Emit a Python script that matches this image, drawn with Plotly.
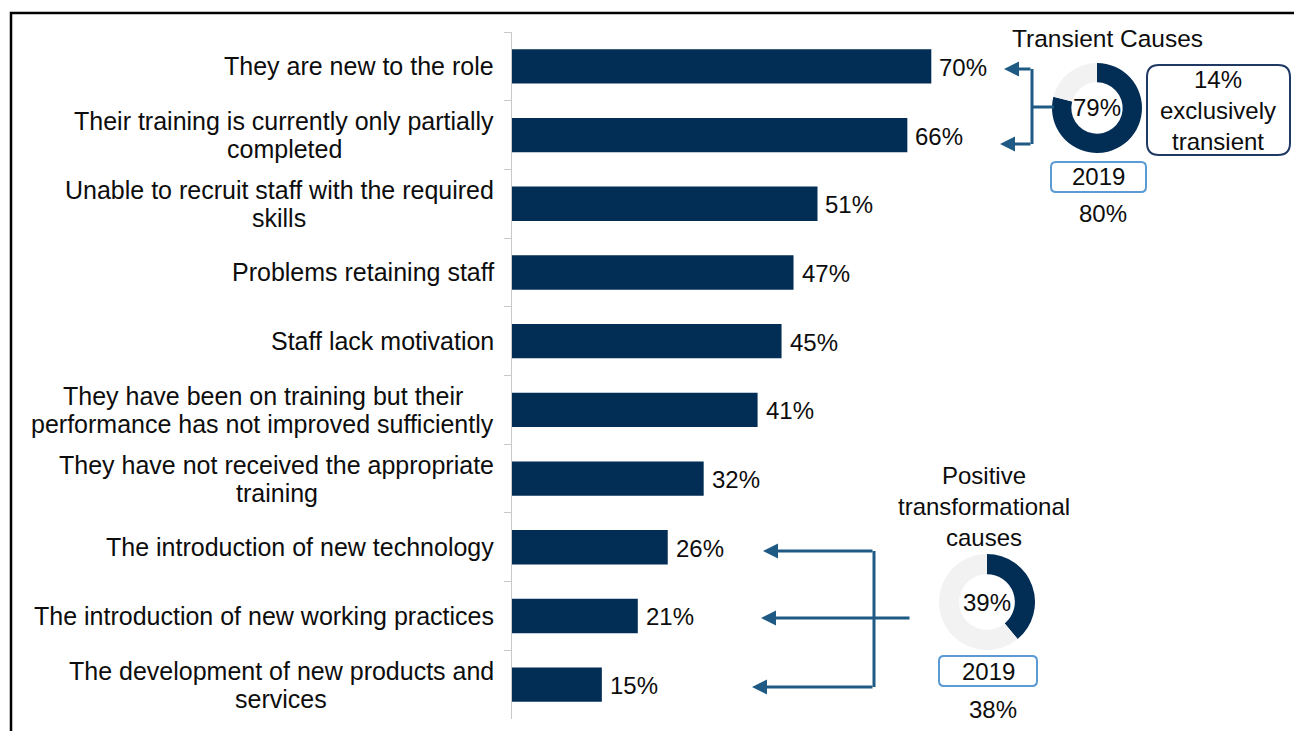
import plotly.graph_objects as go

# ---- data ----
categories = [
    "They are new to the role",
    "Their training is currently only partially<br>completed",
    "Unable to recruit staff with the required<br>skills",
    "Problems retaining staff",
    "Staff lack motivation",
    "They have been on training but their<br>performance has not improved sufficiently",
    "They have not received the appropriate<br>training",
    "The introduction of new technology",
    "The introduction of new working practices",
    "The development of new products and<br>services",
]
shares = [70, 66, 51, 47, 45, 41, 32, 26, 21, 15]

transient_share = 79
transient_2019 = 80
exclusively_transient = 14

positive_share = 39
positive_2019 = 38

# ---- styling ----
NAVY = "#022D55"
TRACK = "#F2F2F2"
ARROW = "#1E5A84"
FONT = "Liberation Sans, Arial, sans-serif"
TXT = "#0D0D0D"

W, H = 1294, 731
ML, MR, MT, MB = 512, 0, 32, 12
PW, PH = W - ML - MR, H - MT - MB
PX_PER_UNIT = 5.99

LABEL_SIZE = 25
LABEL_HALF_GAP = 14  # half the distance between the lines of a wrapped label

# advance widths (1/1000 em) of Liberation Sans / Arial, used to centre the
# lines of wrapped labels on one another
GLYPH_W = {
    " ": 278, "a": 556, "b": 556, "c": 500, "d": 556, "e": 556, "f": 278,
    "g": 556, "h": 556, "i": 222, "j": 222, "k": 500, "l": 222, "m": 833,
    "n": 556, "o": 556, "p": 556, "q": 556, "r": 333, "s": 500, "t": 278,
    "u": 556, "v": 500, "w": 722, "x": 500, "y": 500, "z": 500,
    "T": 611, "U": 722, "P": 667, "S": 667,
}


def text_width(s, size):
    return sum(GLYPH_W.get(ch, 556) for ch in s) * size / 1000


def px(x):
    return (x - ML) / PW


def py(y):
    return (H - MB - y) / PH


def rrect(x0, y0, x1, y1, r):
    pts = [
        ("M", (x0 + r, y0)),
        ("L", (x1 - r, y0)),
        ("Q", (x1, y0), (x1, y0 + r)),
        ("L", (x1, y1 - r)),
        ("Q", (x1, y1), (x1 - r, y1)),
        ("L", (x0 + r, y1)),
        ("Q", (x0, y1), (x0, y1 - r)),
        ("L", (x0, y0 + r)),
        ("Q", (x0, y0), (x0 + r, y0)),
    ]
    out = []
    for cmd, *coords in pts:
        out.append(cmd + " " + " ".join(f"{px(a):.5f},{py(b):.5f}" for a, b in coords))
    return " ".join(out) + " Z"


fig = go.Figure()

fig.add_trace(go.Bar(
    x=shares, y=categories, orientation="h",
    marker=dict(color=NAVY, line=dict(width=0)),
    hoverinfo="skip", showlegend=False,
))

# donuts
fig.add_trace(go.Pie(
    values=[transient_share, 100 - transient_share],
    marker=dict(colors=[NAVY, TRACK]),
    hole=0.57, sort=False, direction="clockwise", rotation=0,
    textinfo="none", hoverinfo="skip", showlegend=False,
    domain=dict(x=[px(1052), px(1142)], y=[py(153), py(63)]),
))
fig.add_trace(go.Pie(
    values=[positive_share, 100 - positive_share],
    marker=dict(colors=[NAVY, TRACK]),
    hole=0.58, sort=False, direction="clockwise", rotation=0,
    textinfo="none", hoverinfo="skip", showlegend=False,
    domain=dict(x=[px(939), px(1035)], y=[py(650), py(554)]),
))

annotations = []


def cat_line(cat, text, xshift=-16, yshift=0):
    annotations.append(dict(
        x=0, y=cat, xref="x", yref="y", text=text, showarrow=False,
        xanchor="right", yanchor="middle", xshift=xshift, yshift=yshift,
        font=dict(family=FONT, size=LABEL_SIZE, color=TXT),
    ))


# category labels (left of the axis); each line of a wrapped label is its own
# text, centred on the widest line, with tighter line spacing
for cat in categories:
    lines = cat.split("<br>")
    if len(lines) == 1:
        cat_line(cat, cat)
        continue
    widths = [text_width(s, LABEL_SIZE) for s in lines]
    wmax = max(widths)
    for k, (s, w) in enumerate(zip(lines, widths)):
        cat_line(cat, s, xshift=-16 - (wmax - w) / 2,
                 yshift=LABEL_HALF_GAP if k == 0 else -LABEL_HALF_GAP)

# value labels
for cat, v in zip(categories, shares):
    annotations.append(dict(
        x=v, y=cat, xref="x", yref="y", text=f"{v}%", showarrow=False,
        xanchor="left", yanchor="middle", xshift=6, yshift=-1,
        font=dict(family=FONT, size=24, color=TXT),
    ))


def note(x, y, text, size=24, **kw):
    d = dict(x=px(x), y=py(y), xref="paper", yref="paper", text=text,
             showarrow=False, xanchor="center", yanchor="middle",
             font=dict(family=FONT, size=size, color=TXT))
    d.update(kw)
    annotations.append(d)


note(1107, 38, "Transient Causes", size=24.5)
note(1097, 108, f"{transient_share}%")
note(1218, 110, f"{exclusively_transient}%<br>exclusively<br>transient")
note(1098, 177, "2019")
note(1103, 213, f"{transient_2019}%")

note(984, 506, "Positive<br>transformational<br>causes")
note(987, 602, f"{positive_share}%")
note(988, 671, "2019")
note(993, 709, f"{positive_2019}%")


def arrow(tip_x, tail_x, y):
    annotations.append(dict(
        x=px(tip_x), y=py(y), xref="paper", yref="paper", text="",
        showarrow=True, ax=tail_x - tip_x, ay=0, axref="pixel", ayref="pixel",
        arrowhead=2, arrowsize=1, arrowwidth=3, arrowcolor=ARROW, standoff=0,
    ))


arrow(1004, 1032, 69)
arrow(1000, 1032, 144)
arrow(763, 874, 551)
arrow(761, 911, 618)
arrow(752, 874, 687)

shapes = []


def seg(x0, y0, x1, y1, color=ARROW, width=3):
    shapes.append(dict(type="line", xref="paper", yref="paper",
                       x0=px(x0), y0=py(y0), x1=px(x1), y1=py(y1),
                       line=dict(color=color, width=width)))


seg(1032, 69, 1032, 144)
seg(1032, 107, 1054, 107)
seg(874, 551, 874, 687)

# rounded call-out boxes
shapes.append(dict(type="path", xref="paper", yref="paper",
                   path=rrect(1147, 65, 1290, 155, 12),
                   line=dict(color="#1F3864", width=2)))
shapes.append(dict(type="path", xref="paper", yref="paper",
                   path=rrect(1051, 162, 1146, 192, 5),
                   line=dict(color="#5B9BD5", width=2)))
shapes.append(dict(type="path", xref="paper", yref="paper",
                   path=rrect(939, 656, 1037, 686, 5),
                   line=dict(color="#5B9BD5", width=2)))

# outer frame
shapes.append(dict(type="rect", xref="paper", yref="paper",
                   x0=px(11), y0=py(760), x1=px(1320), y1=py(13),
                   line=dict(color="#000000", width=2.5), fillcolor="rgba(0,0,0,0)"))

fig.update_layout(
    width=W, height=H,
    margin=dict(l=ML, r=MR, t=MT, b=MB, pad=0),
    paper_bgcolor="white", plot_bgcolor="white",
    bargap=0.5,
    xaxis=dict(visible=False, range=[0, PW / PX_PER_UNIT], fixedrange=True),
    yaxis=dict(
        type="category", autorange="reversed", showticklabels=False,
        showline=True, linecolor="#C8C8C8", linewidth=1,
        ticks="outside", tickson="boundaries", ticklen=7, tickcolor="#C8C8C8",
        showgrid=False, zeroline=False, fixedrange=True,
    ),
    annotations=annotations,
    shapes=shapes,
    font=dict(family=FONT, color=TXT),
)

fig.write_html("out.html")
